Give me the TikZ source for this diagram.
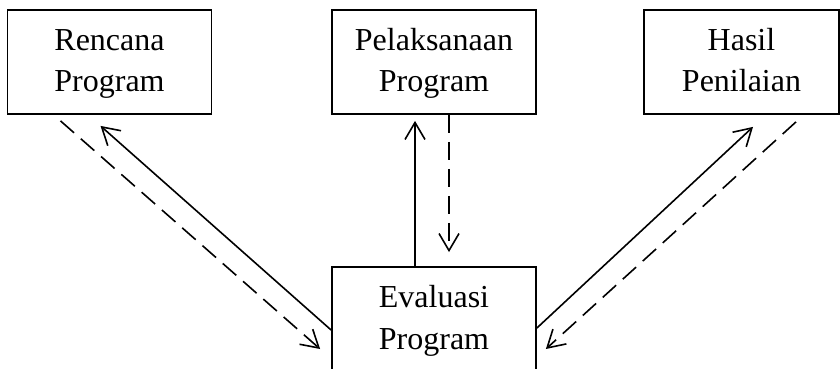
\documentclass[tikz,border=0pt]{standalone}
\usepackage{fontspec}
\setmainfont{Liberation Serif}
\usetikzlibrary{arrows.meta}
\newcommand\lnstrut{\rule[-11.5pt]{0pt}{41.5pt}}
\begin{document}
\begin{tikzpicture}[x=1pt,y=-1pt,
  box/.style={draw,line width=1.8pt,minimum width=204pt,minimum height=104pt,inner sep=0pt,align=center,font=\fontsize{32}{41.5}\selectfont},
  conn/.style={line width=1.6pt,-{Straight Barb[length=17pt,width=20pt,line width=1.6pt]}},
  dconn/.style={conn,dash pattern=on 18pt off 9pt}]
\useasboundingbox (0,0) rectangle (840,369);
\node[box] (ren) at (109.5,62) {\lnstrut Rencana\\\lnstrut Program};
\node[box] (pel) at (434,62) {\lnstrut Pelaksanaan\\\lnstrut Program};
\node[box,minimum width=195pt] (has) at (741.5,62) {\lnstrut Hasil\\\lnstrut Penilaian};
\node[box] (eva) at (434,319) {\lnstrut Evaluasi\\\lnstrut Program};
% left pair
\draw[dconn] ([xshift=-49pt,yshift=-6pt]ren.south) -- ([xshift=-11pt,yshift=-30pt]eva.west);
\draw[conn] ([yshift=-11pt]eva.west) -- ([xshift=-9pt,yshift=-11pt]ren.south);
% middle pair
\draw[conn] ([xshift=-19pt]eva.north) -- ([xshift=-19pt,yshift=-6pt]pel.south);
\draw[dconn] ([xshift=15pt]pel.south) -- ([xshift=15pt,yshift=14pt]eva.north);
% right pair
\draw[conn] ([yshift=-9pt]eva.east) -- ([xshift=11.5pt,yshift=-12pt]has.south);
\draw[dconn] ([xshift=54.5pt,yshift=-7pt]has.south) -- ([xshift=9pt,yshift=-30pt]eva.east);
\end{tikzpicture}
\end{document}
